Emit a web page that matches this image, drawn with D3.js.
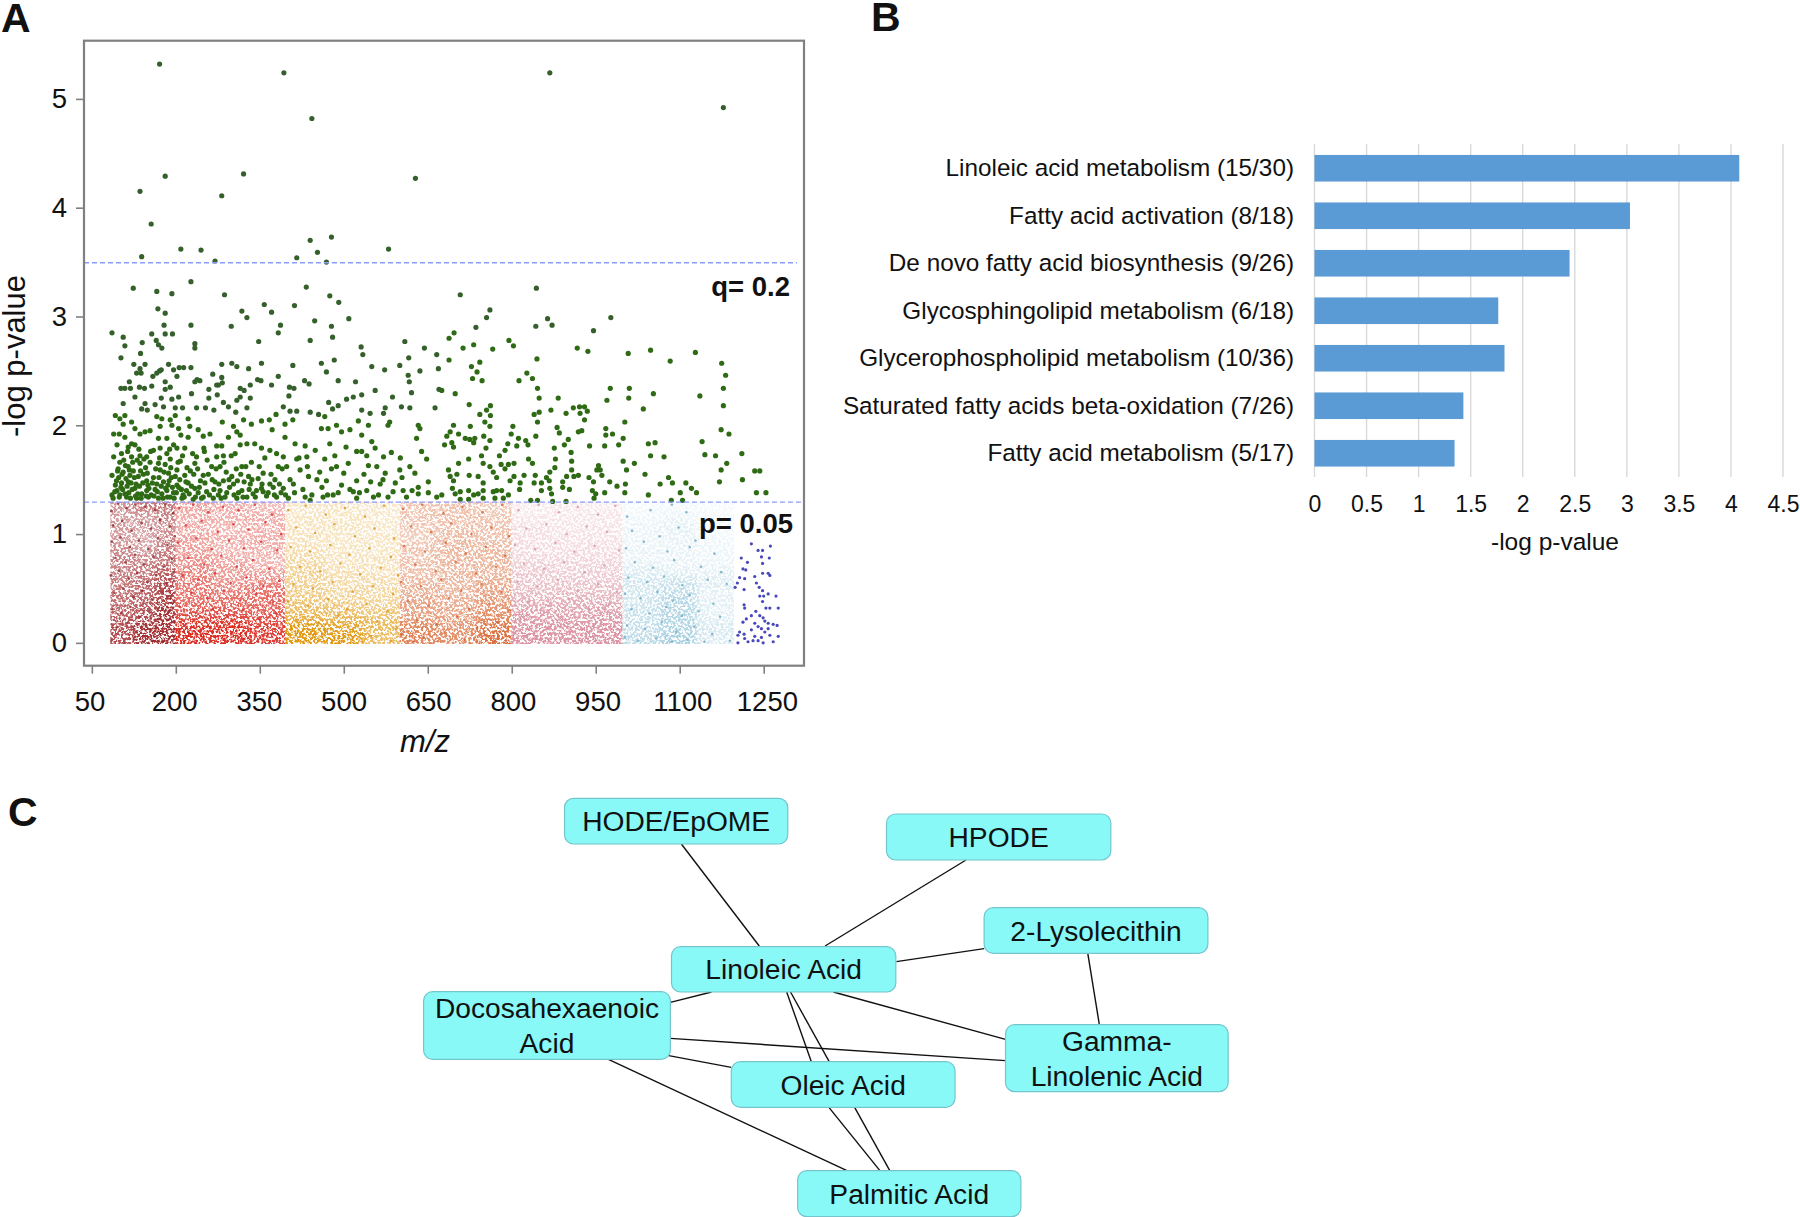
<!DOCTYPE html>
<html><head><meta charset="utf-8">
<script src="https://cdnjs.cloudflare.com/ajax/libs/d3/7.8.5/d3.min.js"></script>
<style>html,body{margin:0;background:#fff}svg{display:block}text{font-family:"Liberation Sans",Arial,sans-serif;fill:#111}</style>
</head><body><svg id="c" width="1800" height="1217"></svg>
<script>
// ---------- Panel A: values ----------
// NOTE: points above p=0.05 are read or estimated from the picture. Below p=0.05 the thousands of
// overlapping dots cannot be read individually: the *Points lists there are hand-placed approximations
// and the density* tables are estimated tone per cell. The grain on that layer is a filter texture only,
// it does not represent measured points.
const mzTicks=[50,200,350,500,650,800,950,1100,1250];
const logpTicks=[0,1,2,3,4,5];
const qLine=3.494, pLine=1.294;
const bandNames=["darkred","red","gold","orange","pink","blue"];
const densityColumns=[[83,125,165,200],[200,265,330,395],[395,465,535,600],[600,665,735,800],[800,865,935,998],[998,1065,1130,1197]];
const densityRowEdges=[1.3,1.2,1.1,1.0,.9,.8,.7,.6,.5,.4,.3,.2,.1,0];
const densityDarkred=[[.40,.50,.50],[.35,.35,.45],[.40,.35,.40],[.35,.30,.45],[.45,.35,.50],[.45,.45,.50],[.45,.50,.60],[.50,.55,.65],[.50,.55,.70],[.55,.60,.75],[.60,.65,.80],[.65,.80,.85],[.65,.80,.80]];
const densityRed=[[.35,.30,.25],[.30,.30,.30],[.30,.25,.30],[.35,.30,.30],[.35,.25,.30],[.40,.35,.25],[.45,.35,.35],[.50,.40,.45],[.50,.50,.55],[.55,.55,.55],[.65,.65,.60],[.80,.85,.70],[.80,.85,.70]];
const densityGold=[[.18,.20,.18],[.20,.20,.15],[.22,.20,.18],[.22,.20,.20],[.25,.20,.20],[.30,.22,.22],[.35,.25,.22],[.35,.30,.28],[.40,.30,.30],[.45,.40,.35],[.55,.50,.45],[.80,.70,.55],[.85,.80,.50]];
const densityOrange=[[.28,.30,.25],[.30,.30,.30],[.25,.30,.30],[.25,.35,.30],[.30,.35,.35],[.30,.35,.35],[.30,.35,.35],[.35,.35,.40],[.40,.35,.45],[.45,.40,.50],[.45,.45,.55],[.60,.50,.65],[.60,.55,.70]];
const densityPink=[[.15,.18,.15],[.18,.18,.20],[.25,.20,.20],[.25,.22,.22],[.25,.25,.25],[.30,.30,.30],[.40,.35,.35],[.40,.40,.40],[.50,.50,.50],[.60,.60,.60],[.70,.65,.70],[.75,.75,.75],[.80,.75,.80]];
const densityBlue=[[.06,.06,.05],[.08,.12,.08],[.12,.15,.06],[.10,.14,.08],[.12,.12,.10],[.12,.12,.10],[.20,.15,.15],[.25,.30,.18],[.25,.35,.15],[.25,.40,.15],[.30,.40,.15],[.30,.40,.22],[.35,.45,.20]];
const sigPoints=[[171,5.32],[393,5.24],[868,5.24],[1178,4.92],[443,4.82],[181,4.29],[321,4.31],[628,4.27],[136,4.15],[282,4.11],[156,3.85],[440,3.70],[478,3.73],[209,3.62],[245,3.61],[453,3.59],[580,3.62],[139,3.55],[416,3.54],[270,3.51],[469,3.50],[227,3.32],[124,3.26],[166,3.23],[193,3.21],[287,3.20],[433,3.27],[475,3.19],[491,3.13],[358,3.11],[371,3.04],[412,3.10],[168,3.07],[181,3.03],[318,3.05],[327,2.99],[509,2.98],[448,2.96],[179,2.92],[227,2.92],[299,2.91],[387,2.92],[478,2.91],[708,3.20],[844,3.26],[761,3.06],[755,2.99],[736,2.90],[843,2.91],[864,2.98],[872,2.92],[977,2.99],[946,2.87],
[86,2.85],[106,2.81],[109,2.73],[102,2.62],[140,2.76],[137,2.66],[157,2.84],[165,2.78],[169,2.74],[175,2.71],[181,2.84],[194,2.84],[234,2.75],[234,2.71],[348,2.77],[383,2.85],[440,2.78],[480,2.81],[531,2.72],[534,2.65],[609,2.77],[644,2.71],[666,2.65],[483,2.60],[616,2.62],[125,2.56],[145,2.56],[136,2.52],[130,2.48],[138,2.48],[171,2.50],[166,2.48],[174,2.51],[187,2.56],[196,2.51],[206,2.53],[214,2.53],[227,2.53],[202,2.45],[159,2.45],[282,2.56],[300,2.57],[309,2.54],[330,2.52],[353,2.57],[266,2.47],[409,2.55],[460,2.57],[469,2.49],[383,2.45],[430,2.41],[438,2.38],[490,2.41],[521,2.40],[550,2.54],[573,2.51],[600,2.55],[615,2.46],[617,2.40],[636,2.50],[669,2.52],[238,2.42],[243,2.41],[234,2.40],[276,2.37],[283,2.39],[282,2.44],[346,2.42],[352,2.41],[333,2.37],[371,2.37],[102,2.34],[109,2.34],[119,2.34],[117,2.40],[135,2.35],[144,2.34],[157,2.36],[181,2.40],[190,2.35],[181,2.33],[259,2.33],[273,2.37],[315,2.34],[322,2.32],[228,2.29],[403,2.35],[411,2.34],[402,2.27],[127,2.26],[174,2.25],[193,2.24],[205,2.26],[274,2.28],[259,2.25],[333,2.25],[309,2.23],[315,2.26],[505,2.24],[517,2.26],[532,2.28],[556,2.32],[587,2.26],[621,2.30],[670,2.33],[473,2.21],[490,2.18],[480,2.15],[106,2.20],[145,2.20],[139,2.15],[149,2.14],[163,2.19],[178,2.17],[199,2.16],[212,2.16],[237,2.16],[253,2.16],[268,2.14],[285,2.21],[294,2.17],[307,2.12],[327,2.16],[392,2.17],[404,2.13],[416,2.13],[440,2.12],[455,2.10],[532,2.14],[547,2.11],[574,2.16],[571,2.11],[603,2.17],[618,2.16],[663,2.16]];
const sigRight=[[697,2.85],[688,2.80],[732,2.74],[713,2.71],[766,2.70],[795,2.78],[803,2.73],[917,2.71],[936,2.68],[1008,2.66],[1048,2.69],[1128,2.67],[688,2.60],[743,2.58],[728,2.54],[738,2.49],[845,2.61],[1083,2.59],[1175,2.57],[1182,2.46],[730,2.43],[747,2.41],[827,2.48],[837,2.43],[813,2.41],[846,2.34],[976,2.34],[1010,2.34],[1178,2.34],[675,2.32],[699,2.29],[1053,2.29],[1136,2.27],[849,2.25],[883,2.25],[970,2.23],[1009,2.25],[724,2.19],[1178,2.18],[762,2.18],[755,2.14],[1035,2.15],[910,2.16],[921,2.17],[930,2.17],[935,2.13],[870,2.14],[897,2.11],[849,2.12],[840,2.10],[922,2.11],[930,2.05],[762,2.09],[743,2.10],[846,2.03],[752,2.03],[761,1.99],[696,2.00],[726,1.99],[802,1.99],[1002,2.03],[881,1.98],[690,1.94],[705,1.92],[684,1.90],[799,1.92],[843,1.90],[885,1.93],[919,1.94],[925,1.95],[968,1.97],[968,1.91],[980,1.92],[1174,1.96],[1188,1.92],[750,1.90],[999,1.88],[717,1.88],[725,1.87],[734,1.88],[732,1.84],[761,1.86],[812,1.88],[825,1.86],[901,1.87],[1140,1.85],[1044,1.83],[1056,1.84],[680,1.82],[693,1.84],[696,1.80],[793,1.83],[809,1.81],[829,1.82],[894,1.82],[939,1.81],[966,1.81],[991,1.82],[876,1.79],[754,1.79],[788,1.77],[906,1.75],[1145,1.73],[1164,1.72],[1211,1.74],[1048,1.72],[1072,1.71],[746,1.72],[778,1.72],[830,1.69],[837,1.65],[878,1.69],[723,1.69],[705,1.65],[749,1.65],[999,1.67],[1019,1.65],[1184,1.65],[907,1.67],[955,1.63],[781,1.64],[794,1.64],[804,1.65],[687,1.59],[761,1.62],[877,1.61],[1005,1.59],[1174,1.59],[1234,1.58],[1243,1.58],[907,1.59],[958,1.59],[952,1.59],[767,1.57],[788,1.60],[868,1.57],[1038,1.55],[724,1.54],[740,1.53],[702,1.55],[690,1.53],[773,1.52],[822,1.54],[842,1.54],[862,1.52],[911,1.53],[919,1.54],[898,1.53],[938,1.52],[961,1.54],[804,1.53],[1080,1.52],[1212,1.50],[696,1.49],[797,1.49],[1171,1.48],[1087,1.47],[1065,1.46],[1111,1.47],[815,1.47],[840,1.47],[853,1.47],[867,1.49],[891,1.48],[975,1.48],[946,1.48],[1003,1.46],[749,1.47],[988,1.44],[694,1.42],[814,1.41],[891,1.43],[1121,1.42],[853,1.40],[903,1.41],[868,1.42],[944,1.40],[1002,1.38],[1130,1.38],[1101,1.38],[966,1.38],[1237,1.38],[1254,1.38],[950,1.37],[708,1.39],[723,1.40],[749,1.40],[740,1.37],[767,1.39],[782,1.40],[794,1.36],[871,1.37],[1044,1.36],[675,1.36],[708,1.32],[723,1.32],[749,1.33],[770,1.33],[785,1.33],[834,1.31],[846,1.31],[873,1.30],[897,1.30],[947,1.33],[1085,1.31],[1105,1.31],[699,1.37],[732,1.36],[773,1.40]];
const sigLeft=[[92,2.09],[109,2.09],[100,2.06],[121,2.03],[106,2.01],[89,1.92],[99,1.92],[109,1.89],[127,1.97],[136,1.92],[145,1.94],[154,1.95],[121,1.83],[115,1.80],[127,1.82],[95,1.82],[89,1.71],[103,1.74],[121,1.71],[136,1.72],[148,1.71],[160,1.77],[169,1.88],[184,1.88],[172,1.99],[166,2.08],[175,2.06],[190,2.05],[199,2.09],[193,2.0],[205,1.97],[222,2.06],[225,1.99],[240,1.96],[249,1.90],[261,1.92],[222,1.89],[209,1.91],[196,1.82],[202,1.79],[216,1.79],[184,1.74],[172,1.79],[190,1.69],[169,1.65],[154,1.66],[136,1.65],[115,1.62],[100,1.66],[97,1.60],[106,1.57],[86,1.54],[118,1.54],[133,1.53],[148,1.49],[172,1.59],[187,1.56],[202,1.59],[216,1.54],[234,1.65],[237,1.71],[230,1.74],[250,1.79],[251,1.76],[273,1.81],[282,1.81],[294,1.89],[283,2.03],[303,1.99],[309,1.94],[315,1.91],[321,2.05],[335,2.01],[353,2.04],[367,2.05],[379,2.10],[409,2.05],[395,2.01],[372,1.96],[395,1.89],[413,1.83],[431,1.81],[449,1.77],[466,2.08],[460,1.97],[472,1.97],[487,2.0],[496,1.94],[511,1.96],[526,2.04],[544,2.0],[532,1.91],[550,1.85],[556,1.79],[579,2.0],[582,2.03],[633,2.0],[636,1.97],[630,1.88],[639,1.76],[648,1.69],[585,1.75],[571,1.71],[601,1.70],[532,1.76],[541,1.72],[523,1.76],[504,1.80],[484,1.72],[466,1.69],[475,1.83],[434,1.71],[416,1.69],[392,1.71],[380,1.74],[368,1.77],[353,1.79],[341,1.83],[327,1.83],[315,1.82],[306,1.74],[335,1.66],[318,1.62],[285,1.72],[273,1.71],[264,1.62],[249,1.54],[279,1.62],[300,1.53],[285,1.49],[330,1.53],[356,1.56],[383,1.62],[398,1.62],[422,1.59],[457,1.57],[487,1.62],[508,1.65],[523,1.49],[544,1.63],[559,1.62],[574,1.56],[600,1.59],[618,1.62],[627,1.56],[651,1.48],[633,1.43],[606,1.40],[588,1.39],[565,1.46],[541,1.40],[517,1.39],[496,1.45],[469,1.49],[437,1.53],[410,1.46],[392,1.42],[368,1.46],[353,1.42],[333,1.46],[318,1.40],[303,1.46],[279,1.40],[255,1.39],[234,1.42],[219,1.40],[202,1.45],[184,1.40],[166,1.46],[148,1.40],[127,1.42],[115,1.48],[103,1.47],[95,1.40],[86,1.36],[100,1.36],[112,1.34],[130,1.33],[151,1.34],[169,1.33],[190,1.34],[211,1.33],[231,1.32],[249,1.34],[267,1.33],[288,1.34],[309,1.33],[327,1.34],[344,1.40],[356,1.39],[374,1.43],[380,1.34],[401,1.33],[431,1.34],[440,1.31],[463,1.34],[481,1.36],[523,1.33],[553,1.34],[579,1.34],[612,1.34],[633,1.37],[651,1.38],[666,1.34],
[92,1.45],[98,1.52],[105,1.41],[110,1.63],[116,1.38],[120,1.47],[124,1.58],[128,1.35],[131,1.68],[135,1.44],[139,1.37],[142,1.55],[146,1.61],[150,1.45],[156,1.36],[160,1.52],[163,1.41],[175,1.37],[178,1.48],[181,1.64],[186,1.45],[192,1.52],[196,1.38],[205,1.43],[208,1.67],[213,1.36],[222,1.47],[226,1.58],[240,1.38],[244,1.49],[258,1.55],[270,1.48],[276,1.36],[290,1.57],[296,1.43],[308,1.60],[312,1.38],[322,1.48],[338,1.37],[347,1.51],[362,1.35],[377,1.50],[388,1.38]];
const sigDense=[[88,1.33],[91,1.39],[94,1.49],[96,1.58],[99,1.34],[102,1.43],[104,1.55],[107,1.68],[109,1.37],[111,1.51],[113,1.44],[114,1.76],[117,1.59],[119,1.33],[122,1.41],[123,1.66],[126,1.52],[129,1.46],[132,1.37],[134,1.78],[137,1.58],[138,1.33],[141,1.47],[143,1.69],[147,1.35],[149,1.56],[152,1.42],[155,1.76],[158,1.47],[161,1.35],[164,1.6],[167,1.39],[170,1.52],[171,1.7],[174,1.44],[177,1.33],[179,1.57],[182,1.42],[185,1.34],[188,1.49],[189,1.78],[191,1.61],[194,1.43],[197,1.33],[199,1.53],[201,1.38],[204,1.66],[207,1.5],[210,1.41],[212,1.72],[215,1.34],[218,1.48],[220,1.61],[224,1.37],[228,1.44],[232,1.55],[235,1.34],[239,1.6],[242,1.43],[246,1.33],[252,1.47],[256,1.68],[260,1.36],[265,1.5],[268,1.41],[272,1.6],[277,1.46],[281,1.33],[286,1.66],[291,1.38],[295,1.5],[299,1.72],[304,1.36],[310,1.49],[316,1.55],[320,1.34],[325,1.62],[331,1.41],[336,1.5],[342,1.34],[349,1.62],[354,1.46],[359,1.7],[365,1.38],[370,1.55],[376,1.36],[385,1.46],[390,1.6],[396,1.36],[404,1.5],[412,1.38],[420,1.7],[427,1.41],[435,1.62],[443,1.36],[452,1.5],[461,1.43],[471,1.36],[478,1.6],[490,1.38],[500,1.56],[511,1.41],[528,1.38],[536,1.55],[548,1.48],[562,1.36],[570,1.5],[592,1.47],[604,1.52],[622,1.4]];
const darkredPoints=[[85,1.21],[97,1.28],[112,1.24],[128,1.27],[146,1.25],[163,1.22],[181,1.27],[195,1.19],[88,1.08],[104,1.12],[121,1.03],[139,1.1],[156,1.05],[172,1.13],[190,1.07],[86,.93],[101,.97],[118,.88],[134,.94],[151,.86],[168,.96],[185,.9],[198,.98],[92,.78],[110,.74],[127,.81],[143,.72],[160,.79],[178,.7],[193,.77],[84,.62],[99,.66],[116,.59],[131,.64],[149,.56],[165,.62],[183,.55],[196,.65],[90,.46],[106,.5],[124,.42],[140,.48],[157,.4],[174,.46],[191,.41],[87,.31],[103,.27],[119,.33],[136,.24],[153,.3],[170,.22],[187,.29],[94,.14],[113,.18],[129,.1],[147,.15],[162,.08],[180,.13],[197,.06],[85,.02],[108,.01],[125,.03],[142,.01],[159,.02],[176,.01],[194,.02]];
const redPoints=[[206,1.24],[231,1.27],[258,1.2],[284,1.25],[312,1.22],[341,1.27],[372,1.18],[218,1.08],[246,1.12],[275,1.02],[303,1.09],[330,1.04],[360,1.11],[388,1.0],[204,.92],[236,.96],[264,.86],[295,.94],[322,.87],[352,.93],[381,.85],[222,.78],[251,.72],[281,.8],[309,.7],[338,.76],[367,.68],[212,.62],[241,.58],[270,.64],[298,.55],[326,.6],[356,.52],[385,.57],[228,.46],[257,.41],[286,.48],[315,.39],[344,.45],[373,.37],[207,.33],[237,.28],[266,.31],[293,.24],[320,.3],[349,.22],[379,.27],[216,.16],[244,.12],[272,.18],[301,.09],[329,.14],[358,.07],[390,.13],[203,.03],[233,.01],[262,.02],[290,.01],[318,.03],[347,.01],[376,.02]];
const goldPoints=[[401,1.22],[432,1.26],[468,1.18],[502,1.24],[538,1.16],[572,1.26],[415,1.06],[449,1.01],[483,1.09],[520,.98],[555,1.05],[590,.96],[405,.88],[440,.84],[476,.9],[510,.81],[546,.87],[584,.79],[422,.7],[458,.66],[494,.73],[529,.63],[566,.69],[597,.62],[410,.54],[445,.5],[480,.56],[516,.47],[552,.52],[588,.45],[400,.38],[436,.34],[472,.4],[506,.31],[541,.36],[578,.29],[418,.21],[454,.18],[490,.25],[525,.15],[560,.2],[594,.13],[404,.07],[442,.04],[478,.09],[513,.03],[548,.06],[584,.02],[428,.01],[496,.01]];
const orangePoints=[[606,1.23],[640,1.27],[678,1.19],[712,1.25],[748,1.2],[783,1.27],[620,1.07],[656,1.02],[692,1.1],[728,1.0],[764,1.06],[795,.98],[608,.89],[645,.84],[682,.92],[718,.82],[754,.88],[788,.8],[628,.72],[664,.66],[700,.74],[736,.64],[772,.7],[602,.56],[638,.52],[674,.58],[710,.48],[746,.54],[782,.47],[615,.38],[652,.34],[688,.41],[724,.31],[760,.36],[796,.3],[630,.21],[666,.17],[702,.24],[738,.14],[774,.19],[604,.08],[642,.05],[680,.1],[716,.03],[752,.07],[790,.02],[624,.01],[770,.01]];
const pinkPoints=[[812,1.22],[848,1.27],[884,1.2],[918,1.25],[954,1.18],[985,1.26],[826,1.05],[862,1.09],[898,1.0],[934,1.07],[970,1.02],[806,.9],[842,.86],[878,.92],[912,.84],[948,.89],[992,.85],[822,.73],[858,.68],[894,.74],[930,.65],[966,.71],[810,.56],[846,.52],[882,.58],[918,.48],[954,.54],[988,.47],[830,.38],[866,.34],[902,.4],[938,.31],[974,.36],[816,.22],[852,.17],[888,.24],[924,.14],[960,.19],[994,.12],[804,.08],[840,.04],[876,.09],[912,.02],[948,.06],[982,.01]];
const bluePoints=[[1006,1.16],[1048,1.22],[1086,1.27],[1112,1.2],[1146,1.12],[1015,1.03],[1064,.98],[1098,1.06],[1128,.94],[1004,.87],[1036,.93],[1078,.84],[1118,.88],[1162,.82],[1020,.74],[1052,.69],[1090,.76],[1138,.7],[1174,.65],[1008,.6],[1042,.56],[1072,.61],[1105,.53],[1150,.58],[1184,.54],[1002,.45],[1030,.41],[1060,.47],[1088,.39],[1118,.44],[1160,.36],[1014,.31],[1046,.27],[1076,.33],[1104,.25],[1134,.29],[1172,.24],[1006,.16],[1038,.13],[1068,.19],[1094,.1],[1126,.15],[1158,.08],[1002,.05],[1026,.02],[1058,.04],[1086,.01],[1114,.03],[1144,.01],[1190,.02]];
const navyPoints=[[1228,.91],[1262,.89],[1240,.85],[1248,.85],[1246,.79],[1260,.78],[1210,.78],[1221,.74],[1248,.73],[1213,.68],[1218,.67],[1248,.64],[1258,.64],[1261,.62],[1234,.61],[1216,.59],[1207,.60],[1203,.55],[1199,.51],[1237,.55],[1242,.51],[1215,.49],[1248,.48],[1258,.45],[1243,.43],[1250,.43],[1272,.43],[1248,.38],[1215,.35],[1216,.32],[1254,.32],[1261,.32],[1276,.32],[1236,.29],[1228,.25],[1243,.25],[1219,.22],[1213,.19],[1249,.23],[1252,.20],[1258,.18],[1267,.17],[1274,.16],[1234,.18],[1240,.15],[1207,.10],[1215,.08],[1204,.07],[1228,.12],[1246,.13],[1258,.13],[1252,.10],[1234,.06],[1246,.05],[1261,.07],[1276,.06],[1204,0],[1222,.01],[1231,.02],[1249,0],[1267,.01],[1240,.02],[1216,.04]];
// ---------- Panel B ----------
const pathways=["Linoleic acid metabolism (15/30)","Fatty acid activation (8/18)","De novo fatty acid biosynthesis (9/26)","Glycosphingolipid metabolism (6/18)","Glycerophospholipid metabolism (10/36)","Saturated fatty acids beta-oxidation (7/26)","Fatty acid metabolism (5/17)"];
const pathwayLogP=[4.08,3.03,2.45,1.765,1.825,1.43,1.345];
const barTicks=[0,.5,1,1.5,2,2.5,3,3.5,4,4.5];
// ---------- Panel C ----------
const nodeLabels=[["HODE/EpOME"],["HPODE"],["2-Lysolecithin"],["Linoleic Acid"],["Docosahexaenoic","Acid"],["Gamma-","Linolenic Acid"],["Oleic Acid"],["Palmitic Acid"]];
const edgePairs=[[0,3],[1,3],[2,3],[2,5],[3,5],[3,4],[4,5],[4,6],[4,7],[3,6],[3,7],[6,7]];

// ---------- layout and styles ----------
const svg=d3.select("#c");
const bandFill=["#a52f33","#dc2e22","#e29a12","#d8622c","#dc93a3","#6fb2cd"];
const dotFill=["#8f2f33","#d2353a","#d99a2c","#cf6a40","#d69aa8","#74aec6"];
const x=d3.scaleLinear().domain([36,1322]).range([84,804]);
const y=d3.scaleLinear().domain([-.21,5.535]).range([665.7,40.7]);
const defs=svg.append("defs");
// soft density, then a fine grain mask (texture only)
const grain=defs.append("filter").attr("id","soft").attr("x",0).attr("y",0).attr("width",1).attr("height",1).attr("color-interpolation-filters","sRGB");
grain.append("feGaussianBlur").attr("in","SourceGraphic").attr("stdDeviation",4).attr("result","tone");
grain.append("feTurbulence").attr("type","fractalNoise").attr("baseFrequency",.42).attr("numOctaves",2).attr("seed",7).attr("result","noise");
grain.append("feColorMatrix").attr("in","noise").attr("type","matrix").attr("values","0 0 0 0 0  0 0 0 0 0  0 0 0 0 0  7 0 0 0 -2.9").attr("result","mask");
grain.append("feComposite").attr("in","tone").attr("in2","mask").attr("operator","in");

const overhang=14;
[densityDarkred,densityRed,densityGold,densityOrange,densityPink,densityBlue].forEach((tbl,b)=>{
  const cols=densityColumns[b];
  defs.append("clipPath").attr("id","clip"+b).append("rect")
    .attr("x",x(cols[0])).attr("y",y(1.3)).attr("width",x(cols[3])-x(cols[0])).attr("height",y(-.01)-y(1.3));
  const g=svg.append("g").attr("clip-path",`url(#clip${b})`).append("g").attr("filter","url(#soft)").attr("class",bandNames[b]);
  tbl.forEach((row,r)=>row.forEach((v,c)=>{
    const x0=x(cols[c])-(c===0?overhang:0), x1=x(cols[c+1])+(c===2?overhang:0);
    const y0=y(densityRowEdges[r])-(r===0?overhang:0), y1=y(densityRowEdges[r+1])+(r===12?overhang:0);
    g.append("rect").attr("x",x0).attr("width",x1-x0+.5).attr("y",y0).attr("height",y1-y0+.5)
      .attr("fill",d3.interpolateRgb("#fff",bandFill[b])(Math.min(1,v*1.3)));
  }));
});
// dots
function dots(data,fill,r,op){
  svg.append("g").selectAll("circle").data(data).join("circle")
    .attr("cx",d=>x(d[0])).attr("cy",d=>y(d[1])).attr("r",r).attr("fill",fill).attr("opacity",op);
}
[darkredPoints,redPoints,goldPoints,orangePoints,pinkPoints,bluePoints].forEach((p,i)=>dots(p,dotFill[i],1.3,.85));
dots(navyPoints,"#3434b4",1.6,.9);
dots(sigLeft,"#2f6a14",2.6,1);
dots(sigDense,"#2f6a14",2.6,1);
dots(sigRight,"#2f6a14",2.6,1);
dots(sigPoints,"#35602c",2.6,1);
// threshold lines
[[qLine,797],[pLine,804]].forEach(([v,xe])=>svg.append("line").attr("x1",x.range()[0]).attr("x2",xe)
  .attr("y1",y(v)).attr("y2",y(v)).attr("stroke","#8a9cff").attr("stroke-width",1.4).attr("stroke-dasharray","5 3"));
// frame and axes
svg.append("rect").attr("x",84).attr("y",40.7).attr("width",720).attr("height",625).attr("fill","none").attr("stroke","#808080").attr("stroke-width",2.2);
const labelX=d3.scaleLinear().domain([50,1250]).range([89.5,766.9]);
const ax=svg.append("g").attr("transform","translate(0,665.7)").call(d3.axisBottom(x).tickValues(mzTicks).tickSize(8).tickPadding(18).tickFormat(d3.format("d")));
const ay=svg.append("g").attr("transform","translate(84,0)").call(d3.axisLeft(y).tickValues(logpTicks).tickSize(8).tickPadding(9).tickFormat(d3.format("d")));
ax.selectAll("text").attr("x",d=>labelX(d)-x(d));
[ax,ay].forEach(a=>{a.select(".domain").remove();a.selectAll("line").attr("stroke","#808080").attr("stroke-width",1.6);a.selectAll("text").attr("font-size",27.5).attr("font-family","Liberation Sans").attr("fill","#111");});
svg.append("text").attr("x",425).attr("y",752).attr("text-anchor","middle").attr("font-size",31).attr("font-style","italic").text("m/z");
svg.append("text").attr("transform","translate(25,356) rotate(-90)").attr("text-anchor","middle").attr("font-size",31).text("-log p-value");
svg.append("text").attr("x",790).attr("y",296).attr("text-anchor","end").attr("font-size",27.5).attr("font-weight","bold").text("q= 0.2");
svg.append("text").attr("x",793).attr("y",533).attr("text-anchor","end").attr("font-size",27.5).attr("font-weight","bold").text("p= 0.05");
// panel letters
[["A",1,32],["B",871,31],["C",8,826]].forEach(([t,px,py])=>svg.append("text").attr("x",px).attr("y",py).attr("font-size",41).attr("font-weight","bold").text(t));

// Panel B
const bx=d3.scaleLinear().domain([0,4.5]).range([1314.5,1783]);
const by=d3.scaleBand().domain(pathways).range([144.5,477]).paddingInner(.44).paddingOuter(.22);
svg.append("g").selectAll("line").data(barTicks).join("line").attr("x1",d=>bx(d)).attr("x2",d=>bx(d)).attr("y1",144).attr("y2",477).attr("stroke","#d9d9d9").attr("stroke-width",1.4);
svg.append("g").selectAll("rect").data(pathways).join("rect").attr("x",bx(0)).attr("y",d=>by(d)).attr("height",by.bandwidth())
  .attr("width",(d,i)=>bx(pathwayLogP[i])-bx(0)).attr("fill","#5b9bd5");
const bl=svg.append("g").attr("transform","translate(1314.5,0)").call(d3.axisLeft(by).tickSize(0).tickPadding(20.5));
bl.select(".domain").remove();bl.selectAll("text").attr("font-size",24.3).attr("font-family","Liberation Sans").attr("fill","#222");
const bb=svg.append("g").attr("transform","translate(0,477)").call(d3.axisBottom(bx).tickValues(barTicks).tickSize(0).tickPadding(19).tickFormat(d=>String(d)));
bb.select(".domain").remove();bb.selectAll("text").attr("font-size",23).attr("font-family","Liberation Sans").attr("fill","#222");
svg.append("text").attr("x",1555).attr("y",550).attr("text-anchor","middle").attr("font-size",24.5).attr("fill","#222").text("-log p-value");

// Panel C: hand-laid diagram; layout units map onto the panel through scales
const netX=d3.scaleLinear().domain([0,1568]).range([400,1260]);
const netY=d3.scaleLinear().domain([0,1311]).range([780,1217]);
const nodeBoxes=[[300,55,707,192],[887,102,1296,240],[1065,383,1473,520],[495,500,904,636],[43,635,493,838],[1104,734,1510,935],[604,845,1012,982],[725,1172,1132,1310]];
const edgeEnds=[[513,192,655,498],[1032,240,775,498],[1065,506,905,545],[1254,520,1275,733],[790,636,1104,778],[568,636,493,667],[493,775,1104,842],[490,827,604,862],[380,838,815,1172],[705,636,750,845],[712,636,893,1172],[782,982,875,1172]];
svg.append("g").selectAll("line").data(edgePairs).join("line")
  .attr("x1",(d,i)=>netX(edgeEnds[i][0])).attr("y1",(d,i)=>netY(edgeEnds[i][1]))
  .attr("x2",(d,i)=>netX(edgeEnds[i][2])).attr("y2",(d,i)=>netY(edgeEnds[i][3]))
  .attr("stroke","#111").attr("stroke-width",1.4);
const nd=svg.append("g").selectAll("g").data(nodeLabels).join("g");
nd.append("rect").attr("x",(d,i)=>netX(nodeBoxes[i][0])).attr("y",(d,i)=>netY(nodeBoxes[i][1]))
  .attr("width",(d,i)=>netX(nodeBoxes[i][2])-netX(nodeBoxes[i][0])).attr("height",(d,i)=>netY(nodeBoxes[i][3])-netY(nodeBoxes[i][1]))
  .attr("rx",9).attr("fill","#88f9f7").attr("stroke","#74c6cc").attr("stroke-width",1.2);
nd.each(function(d,i){
  const cx=netX((nodeBoxes[i][0]+nodeBoxes[i][2])/2), cy=netY((nodeBoxes[i][1]+nodeBoxes[i][3])/2);
  d.forEach((t,k)=>d3.select(this).append("text").attr("x",cx).attr("y",cy+(k-(d.length-1)/2)*35+10)
    .attr("text-anchor","middle").attr("font-size",28.2).attr("fill","#000").text(t));
});
</script></body></html>
